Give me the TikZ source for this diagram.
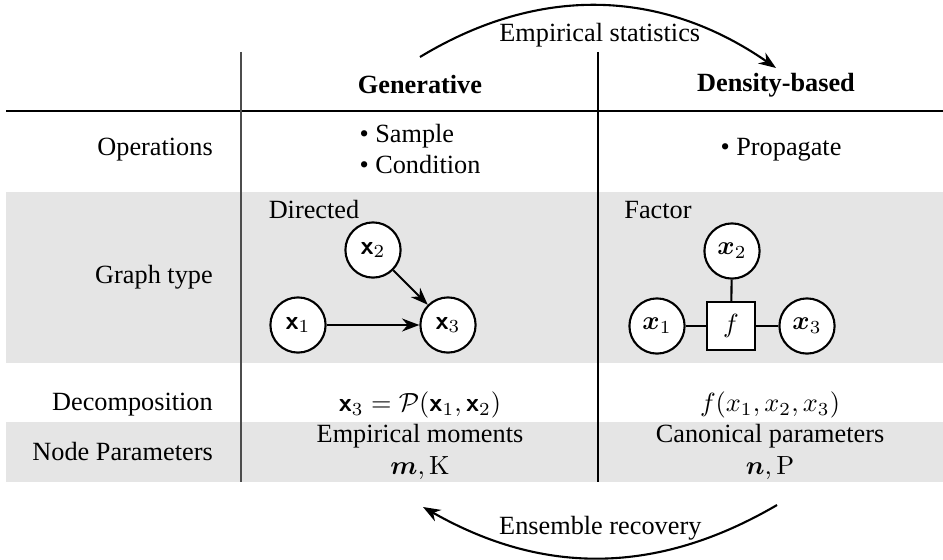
\documentclass[tikz,border=0pt]{standalone}
\usepackage[no-math]{fontspec}
\setmainfont{Liberation Serif}
\usepackage{amsmath,amssymb}
\usepackage{bm}
\usetikzlibrary{arrows.meta,positioning}
\newcommand{\rvx}{\boldsymbol{\mathsf{x}}}
\tikzset{
  rowlabel/.style={anchor=east},
  band/.style={fill=gray!20},
  var/.style={circle,draw,thick,fill=white,minimum size=21pt,inner sep=0pt},
  fac/.style={rectangle,draw,thick,fill=white,minimum size=18pt,inner sep=0pt},
}

\begin{document}
\begin{tikzpicture}[x=0.3805pt,y=-0.3805pt,>=Stealth]
  \useasboundingbox (0,0) rectangle (943,559);
  % shaded rows and rules
  \fill[band] (6,192) rectangle (943,363);
  \fill[band] (6,422) rectangle (943,482);
  \draw[line width=0.6pt] (6,111) -- (943,111);
  \draw[gray!60!black] (241,52) -- (241,482);
  \draw (598,52) -- (598,482);

  % headers
  \node[font=\bfseries] (hgen) at (420,85) {Generative};
  \node[font=\bfseries] (hden) at (776,85) {Density-based};

  % operations
  \node[rowlabel] (lops) at (222,150) {Operations};
  \node[align=left] (opsgen) at (420,149) {\textbullet\ Sample\\\textbullet\ Condition};
  \node (opsden) at (781,150) {\textbullet\ Propagate};

  % graph type
  \node[rowlabel] (lgraph) at (222,277) {Graph type};
  \node (ldir) at (314,210) {Directed};
  \node[var] (d2) at (373,250) {$\rvx_2$};
  \node[var] (d1) at (298,325) {$\rvx_1$};
  \node[var] (d3) at (448,325) {$\rvx_3$};
  \draw[->,thick] (d2) -- (d3);
  \draw[->,thick] (d1) -- (d3);

  \node (lfac) at (658,210) {Factor};
  \node[var] (f2) at (732,251) {$\bm{x}_2$};
  \node[var] (f1) at (657,326) {$\bm{x}_1$};
  \node[var] (f3) at (807,326) {$\bm{x}_3$};
  \node[fac] (ff) at (731,326) {$f$};
  \draw[thick] (f1) -- (ff);
  \draw[thick] (ff) -- (f3);
  \draw[thick] (f2) -- (ff);

  % decomposition
  \node[rowlabel] (ldec) at (222,405) {Decomposition};
  \node (decgen) at (420,405) {$\rvx_3 = \mathcal{P}(\rvx_1,\rvx_2)$};
  \node (decden) at (770,405) {$f(x_1,x_2,x_3)$};

  % node parameters
  \node[rowlabel] (lpar) at (222,452) {Node Parameters};
  \node[align=center] (pargen) at (420,452) {Empirical moments\\$\bm{m},\mathrm{K}$};
  \node[align=center] (parden) at (770,452) {Canonical parameters\\$\bm{n},\mathrm{P}$};

  % conversions
  \coordinate (es-from) at (420,57);
  \coordinate (es-to) at (776,68);
  \draw[->,thick] (es-from) to[bend left=33] node[below=3pt] (les) {Empirical statistics} (es-to);
  \coordinate (er-from) at (777,505);
  \coordinate (er-to) at (423,507);
  \draw[->,thick] (er-from) to[bend left=30] node[above=3pt] (ler) {Ensemble recovery} (er-to);
\end{tikzpicture}
\end{document}
